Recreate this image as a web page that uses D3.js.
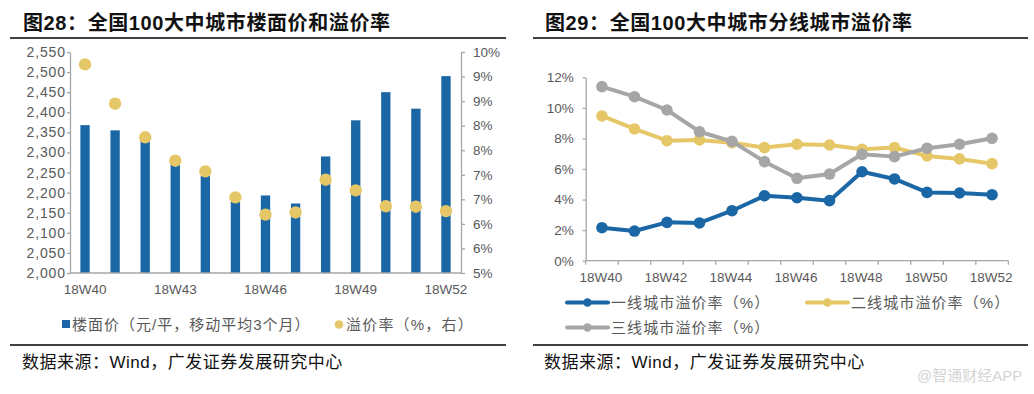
<!DOCTYPE html>
<html><head><meta charset="utf-8">
<script src="https://cdn.jsdelivr.net/npm/d3@7"></script>
<style>
body{margin:0;background:#fff;}
svg{display:block;}
text{font-family:"Liberation Sans",Arial,"Noto Sans CJK SC",sans-serif;}
.cjk{font-family:"Liberation Sans","Noto Sans CJK SC",sans-serif;}
</style></head>
<body><svg id="c" width="1034" height="394"></svg>
<script>
// ---------- data ----------
const weeks = ["18W40","18W41","18W42","18W43","18W44","18W45","18W46","18W47","18W48","18W49","18W50","18W51","18W52"];
const landPrice = [2368,2355,2330,2275,2242,2177,2193,2173,2290,2380,2450,2409,2490];
const premiumAll = [9.72,8.83,8.07,7.54,7.30,6.71,6.32,6.37,7.11,6.87,6.51,6.50,6.40];
const leftTicks = [2000,2050,2100,2150,2200,2250,2300,2350,2400,2450,2500,2550];
const rightTickValues = [5,5+5/9,5+10/9,5+15/9,5+20/9,5+25/9,5+30/9,5+35/9,5+40/9,10];
const rightTickLabels = ["5%","6%","6%","7%","7%","8%","8%","9%","9%","10%"];
const leftXLabels = ["18W40","18W43","18W46","18W49","18W52"];

const tier1 = [2.16,1.94,2.51,2.47,3.27,4.25,4.12,3.93,5.82,5.35,4.47,4.43,4.32];
const tier2 = [9.47,8.62,7.85,7.90,7.72,7.40,7.62,7.57,7.29,7.40,6.85,6.66,6.35];
const tier3 = [11.39,10.73,9.86,8.44,7.81,6.48,5.39,5.67,6.96,6.81,7.36,7.62,8.01];
const rightYTicks = [0,2,4,6,8,10,12];
const rightXLabels = ["18W40","18W42","18W44","18W46","18W48","18W50","18W52"];
const seriesNames = ["一线城市溢价率（%）","二线城市溢价率（%）","三线城市溢价率（%）"];

const BLUE="#1b67a5", YEL="#e6c768", GRAY="#a6a6a6", AX="#a6a6a6", TXT="#595959";
const svg = d3.select("#c");

// ---------- titles / separators ----------
function header(x0,x1,tx,title){
  svg.append("text").attr("x",tx).attr("y",30).attr("class","cjk")
    .attr("font-size",20).attr("font-weight","bold").attr("letter-spacing",0.6).attr("fill","#111").text(title);
  svg.append("line").attr("x1",x0).attr("x2",x1).attr("y1",38).attr("y2",38).attr("stroke","#000").attr("stroke-width",1.3);
  svg.append("line").attr("x1",x0).attr("x2",x1).attr("y1",345).attr("y2",345).attr("stroke","#000").attr("stroke-width",1.3);
  svg.append("text").attr("x",tx-1).attr("y",368).attr("class","cjk")
    .attr("font-size",17).attr("letter-spacing",0.5).attr("fill","#111").text("数据来源：Wind，广发证券发展研究中心");
}
header(10,506,23,"图28：全国100大中城市楼面价和溢价率");
header(533,1028,545,"图29：全国100大中城市分线城市溢价率");

// ---------- left chart ----------
const xL = d3.scaleBand().domain(weeks).range([70,461]).paddingInner(0.69).paddingOuter(0.345);
const yL = d3.scaleLinear().domain([2000,2550]).range([273,52]);
const yR = d3.scaleLinear().domain([5,10]).range([273,52]);

svg.append("g").selectAll("rect").data(weeks).join("rect")
  .attr("x",d=>xL(d)).attr("width",xL.bandwidth())
  .attr("y",(d,i)=>yL(landPrice[i])).attr("height",(d,i)=>yL(2000)-yL(landPrice[i]))
  .attr("fill",BLUE);

function styleAxis(g){
  g.selectAll("path,line").attr("stroke",AX).attr("stroke-width",1.3);
  g.selectAll("text").attr("fill",TXT).attr("font-size",13.5);
}
const gl = svg.append("g").attr("transform","translate(70,0)")
  .call(d3.axisLeft(yL).tickValues(leftTicks).tickFormat(d3.format(",")).tickSize(3).tickPadding(1).tickSizeOuter(0));
styleAxis(gl); gl.selectAll("text").attr("letter-spacing",0.9).attr("font-size",14);
const gr = svg.append("g").attr("transform","translate(461,0)")
  .call(d3.axisRight(yR).tickValues(rightTickValues).tickFormat((d,i)=>rightTickLabels[i]).tickSize(4).tickPadding(8).tickSizeOuter(0));
styleAxis(gr);
const gb = svg.append("g").attr("transform","translate(0,273)")
  .call(d3.axisBottom(xL).tickValues(leftXLabels).tickSize(0).tickPadding(11).tickSizeOuter(0));
styleAxis(gb);
gb.select("path").attr("d","M70,0H461");

svg.append("g").selectAll("circle").data(weeks).join("circle")
  .attr("cx",d=>xL(d)+xL.bandwidth()/2).attr("cy",(d,i)=>yR(premiumAll[i])).attr("r",6.2)
  .attr("fill",YEL);

// left legend
svg.append("rect").attr("x",62).attr("y",320).attr("width",8).attr("height",8).attr("fill",BLUE);
svg.append("text").attr("x",72).attr("y",330).attr("class","cjk").attr("font-size",15).attr("letter-spacing",1).attr("fill",TXT).text("楼面价（元/平，移动平均3个月）");
svg.append("circle").attr("cx",339).attr("cy",324.5).attr("r",4.3).attr("fill",YEL);
svg.append("text").attr("x",346).attr("y",330).attr("class","cjk").attr("font-size",15).attr("letter-spacing",1.2).attr("fill",TXT).text("溢价率（%，右）");

// ---------- right chart ----------
const xR = d3.scaleBand().domain(weeks).range([585.7,1008.3]);
const yP = d3.scaleLinear().domain([0,12]).range([260.7,77.3]);
const cx = d=>xR(d)+xR.bandwidth()/2;

const gy = svg.append("g").attr("transform","translate(585.7,0)")
  .call(d3.axisLeft(yP).tickValues(rightYTicks).tickFormat(d=>d+"%").tickSize(3).tickPadding(9).tickSizeOuter(0));
styleAxis(gy);
const gx = svg.append("g").attr("transform","translate(0,260.7)");
gx.append("line").attr("x1",585.7).attr("x2",1008.3).attr("stroke",AX).attr("stroke-width",1.3);
gx.selectAll("line.t").data(weeks.concat(["end"])).join("line").attr("class","t")
  .attr("x1",(d,i)=>i<weeks.length?xR(d):xR.range()[1]).attr("x2",(d,i)=>i<weeks.length?xR(d):xR.range()[1])
  .attr("y1",0).attr("y2",4).attr("stroke",AX).attr("stroke-width",1.3);
gx.selectAll("text").data(rightXLabels).join("text")
  .attr("x",d=>cx(d)-1).attr("y",21.5).attr("text-anchor","middle").attr("font-size",13.5).attr("fill",TXT).text(d=>d);

const series = [{v:tier1,c:BLUE},{v:tier2,c:YEL},{v:tier3,c:GRAY}];
const line = d3.line().x((d,i)=>cx(weeks[i])).y(d=>yP(d));
[series[1],series[2],series[0]].forEach(s=>{
  const g = svg.append("g");
  g.append("path").attr("d",line(s.v)).attr("fill","none").attr("stroke",s.c).attr("stroke-width",4).attr("stroke-linejoin","round");
  g.selectAll("circle").data(s.v).join("circle").attr("cx",(d,i)=>cx(weeks[i])).attr("cy",d=>yP(d)).attr("r",5.8).attr("fill",s.c);
});

// right legend
const legPos = [[567,302.5],[807,302.5],[567,327.5]];
series.forEach((s,i)=>{
  const [lx,ly]=legPos[i];
  svg.append("line").attr("x1",lx).attr("x2",lx+41).attr("y1",ly).attr("y2",ly).attr("stroke",s.c).attr("stroke-width",4).attr("stroke-linecap","round");
  svg.append("circle").attr("cx",lx+20.5).attr("cy",ly).attr("r",4.2).attr("fill",s.c);
  svg.append("text").attr("x",lx+44).attr("y",ly+5.5).attr("class","cjk").attr("font-size",15).attr("letter-spacing",1.1).attr("fill",TXT).text(seriesNames[i]);
});

// watermark
svg.append("text").attr("x",917).attr("y",381).attr("class","cjk").attr("font-size",15).attr("fill","#d4d4d4").text("@智通财经APP");
</script></body></html>
